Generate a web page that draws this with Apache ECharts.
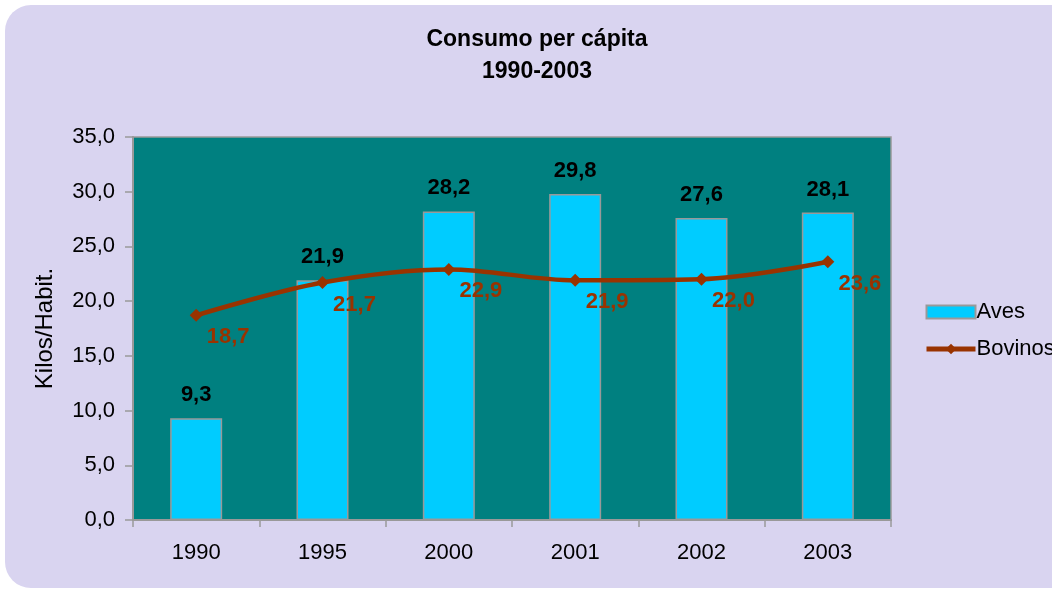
<!DOCTYPE html>
<html>
<head>
<meta charset="utf-8">
<script src="https://cdn.jsdelivr.net/npm/echarts@6/dist/echarts.min.js"></script>
<style>
html,body{margin:0;padding:0;background:#ffffff;}
#c{width:1052px;height:591px;}
</style>
</head>
<body>
<div id="c"></div>
<script>
const categories = ['1990', '1995', '2000', '2001', '2002', '2003'];
const aves = [9.3, 21.9, 28.2, 29.8, 27.6, 28.1];
const bovinos = [18.7, 21.7, 22.9, 21.9, 22.0, 23.6];
const titleText = 'Consumo per cápita\n1990-2003';
const yAxisName = 'Kilos/Habit.';

const fmt = v => Number(v).toFixed(1).replace('.', ',');
const FF = 'Liberation Sans, Arial, sans-serif';
const chart = echarts.init(document.getElementById('c'), null, {renderer: 'canvas'});
chart.setOption({
  backgroundColor: 'transparent',
  animation: false,
  graphic: [{
    type: 'rect', z: -10, silent: true,
    shape: {x: 5, y: 5, width: 1100, height: 583, r: 26},
    style: {fill: '#D9D4F0'}
  }],
  title: {
    text: titleText, left: 532, top: 19, textAlign: 'center',
    textStyle: {fontFamily: FF, fontWeight: 'bold', fontSize: 23, color: '#000', lineHeight: 32}
  },
  legend: {
    orient: 'vertical', left: 919, top: 296, itemGap: 15,
    itemWidth: 49, itemHeight: 13,
    textStyle: {fontFamily: FF, fontSize: 22, color: '#000', padding: [0, 0, 0, -4]},
    data: [
      {name: 'Aves', icon: 'rect', itemStyle: {color: '#00CCFF', borderColor: '#999999', borderWidth: 2}},
      {name: 'Bovinos', lineStyle: {width: 5, color: '#993300'}, itemStyle: {color: '#993300'}}
    ]
  },
  grid: {left: 133, right: 161, top: 137, bottom: 71, show: true, backgroundColor: '#008080', borderColor: '#999999', borderWidth: 1.5},
  xAxis: {
    type: 'category', data: categories,
    axisLine: {lineStyle: {color: '#999999', width: 2}},
    axisTick: {show: true, length: 7, lineStyle: {color: '#999999', width: 1.5}},
    axisLabel: {fontFamily: FF, fontSize: 22, color: '#000', margin: 22}
  },
  yAxis: {
    type: 'value', min: 0, max: 35, interval: 5,
    name: yAxisName, nameLocation: 'middle', nameGap: 76, nameRotate: 90,
    nameTextStyle: {fontFamily: FF, fontSize: 24, color: '#000'},
    axisLine: {show: true, lineStyle: {color: '#999999', width: 2}},
    axisTick: {show: true, length: 8, lineStyle: {color: '#999999', width: 1.5}},
    splitLine: {show: false},
    axisLabel: {fontFamily: FF, fontSize: 22, color: '#000', margin: 18, formatter: v => fmt(v)}
  },
  series: [
    {
      name: 'Aves', type: 'bar', data: aves, barWidth: 52,
      itemStyle: {color: '#00CCFF', borderColor: '#999999', borderWidth: 1.5},
      label: {show: true, position: 'top', distance: 12, formatter: p => fmt(p.value),
        fontFamily: FF, fontWeight: 'bold', fontSize: 22, color: '#000'}
    },
    {
      name: 'Bovinos', type: 'line', data: bovinos, smooth: 0.35,
      symbol: 'diamond', symbolSize: 13,
      lineStyle: {color: '#993300', width: 4.5},
      itemStyle: {color: '#993300'},
      label: {show: true, position: 'inside', offset: [32, 22], formatter: p => fmt(p.value),
        fontFamily: FF, fontWeight: 'bold', fontSize: 22, color: '#993300'}
    }
  ]
});
</script>
</body>
</html>
